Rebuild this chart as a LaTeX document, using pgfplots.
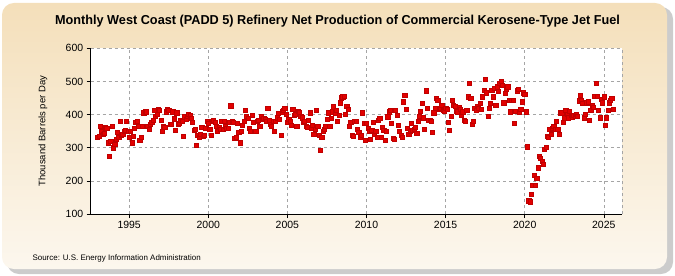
\documentclass[border=0pt]{standalone}
\usepackage{fontspec}
\setmainfont{Liberation Sans}
\usepackage{pgfplots}
\pgfplotsset{compat=1.18}

\definecolor{bgtop}{RGB}{244,223,186}
\definecolor{bgbot}{RGB}{252,247,238}
\definecolor{markred}{RGB}{226,0,0}
\definecolor{gridgray}{RGB}{165,165,165}

\begin{document}
\begin{tikzpicture}[x=1bp, y=1bp]
\useasboundingbox (0,0) rectangle (675,275);
% panel with shadow
\fill[gray!40, rounded corners=12] (7,1) rectangle (673,268);
\shade[top color=bgtop, bottom color=bgbot, rounded corners=12] (2,6) rectangle (667,272);

\node[font=\bfseries\fontsize{13}{15}\selectfont, xscale=0.98] at (337.5,254) {Monthly West Coast (PADD 5) Refinery Net Production of Commercial Kerosene-Type Jet Fuel};
\node[anchor=west, font=\fontsize{8}{10}\selectfont] at (29,17) {Source: U.S. Energy Information Administration};

\begin{axis}[
    at={(90.7bp,61bp)}, anchor=south west,
    scale only axis, width=531.6bp, height=165.7bp,
    xmin=1992.57, xmax=2026.17, ymin=100, ymax=600,
    xtick={1995,2000,...,2025}, ytick={100,200,...,600},
    /pgf/number format/1000 sep={},
    /pgf/number format/assume math mode=true,
    tick label style={font=\fontsize{10.5}{12}\selectfont},
    ylabel={Thousand Barrels per Day},
    ylabel style={font=\fontsize{9.5}{11}\selectfont, at={(axis description cs:-0.075,0.5)}},
    axis x line*=bottom, axis y line*=left,
    axis line style={-, black, line width=0.8pt},
    tick align=outside, major tick length=4bp,
    tick style={black, line width=0.6pt},
    grid=major, major grid style={dashed, gridgray, line width=0.5pt},
    axis background/.style={fill=white},
    clip=false,
]
\draw[dashed, gridgray, line width=0.5pt] (rel axis cs:1,0) -- (rel axis cs:1,1);
\addplot[only marks, mark=square*, mark size=2.1bp,
    mark options={fill=markred, draw=markred!85!black, line width=0.3pt}]
    table[header=false, row sep=\\, x expr=1993+\coordindex/12, y index=0] {
333\\336\\366\\349\\341\\344\\362\\359\\315\\275\\320\\366\\
300\\311\\325\\348\\333\\379\\338\\341\\349\\354\\381\\349\\
333\\351\\315\\335\\359\\376\\379\\366\\323\\331\\364\\406\\
409\\409\\366\\356\\371\\376\\384\\414\\396\\402\\416\\414\\
384\\349\\366\\362\\409\\416\\414\\372\\372\\409\\388\\354\\
406\\372\\374\\384\\379\\335\\394\\386\\396\\402\\399\\389\\
376\\354\\356\\308\\338\\333\\341\\362\\335\\338\\359\\379\\
374\\356\\338\\379\\384\\376\\366\\351\\362\\356\\379\\356\\
379\\366\\359\\359\\376\\427\\379\\376\\328\\331\\374\\346\\
315\\349\\369\\379\\414\\396\\389\\359\\351\\399\\376\\351\\
351\\379\\384\\364\\396\\386\\389\\386\\379\\419\\384\\372\\
366\\379\\349\\379\\391\\404\\386\\338\\409\\414\\419\\402\\
376\\386\\379\\369\\416\\399\\402\\366\\411\\406\\396\\391\\
376\\379\\366\\362\\384\\406\\359\\369\\341\\356\\414\\366\\
338\\293\\333\\349\\356\\364\\386\\406\\366\\389\\409\\424\\
406\\414\\379\\399\\436\\451\\454\\456\\402\\426\\416\\364\\
376\\338\\335\\379\\381\\356\\346\\333\\338\\406\\374\\323\\
374\\359\\351\\325\\354\\376\\341\\351\\333\\384\\389\\333\\
362\\354\\323\\349\\394\\409\\414\\374\\328\\325\\414\\399\\
369\\351\\338\\333\\439\\459\\416\\359\\341\\349\\374\\354\\
356\\362\\344\\379\\396\\411\\434\\391\\356\\472\\419\\384\\
384\\379\\346\\406\\419\\449\\444\\416\\419\\429\\414\\411\\
419\\416\\376\\354\\396\\444\\429\\426\\411\\409\\422\\416\\
399\\409\\384\\379\\414\\454\\496\\449\\372\\379\\419\\414\\
426\\419\\434\\416\\454\\474\\506\\466\\396\\419\\434\\474\\
454\\479\\429\\484\\471\\496\\502\\489\\436\\464\\476\\484\\
444\\409\\444\\444\\374\\411\\472\\476\\409\\416\\439\\466\\
462\\409\\303\\140\\137\\160\\187\\218\\187\\208\\240\\275\\
269\\259\\251\\296\\302\\335\\331\\356\\341\\359\\364\\356\\
381\\356\\341\\406\\406\\376\\391\\414\\402\\391\\411\\399\\
394\\399\\396\\402\\396\\442\\459\\444\\434\\391\\402\\436\\
439\\384\\414\\429\\422\\456\\494\\456\\414\\391\\446\\436\\
454\\369\\391\\414\\436\\444\\449\\416\\
};
\end{axis}
\end{tikzpicture}
\end{document}
